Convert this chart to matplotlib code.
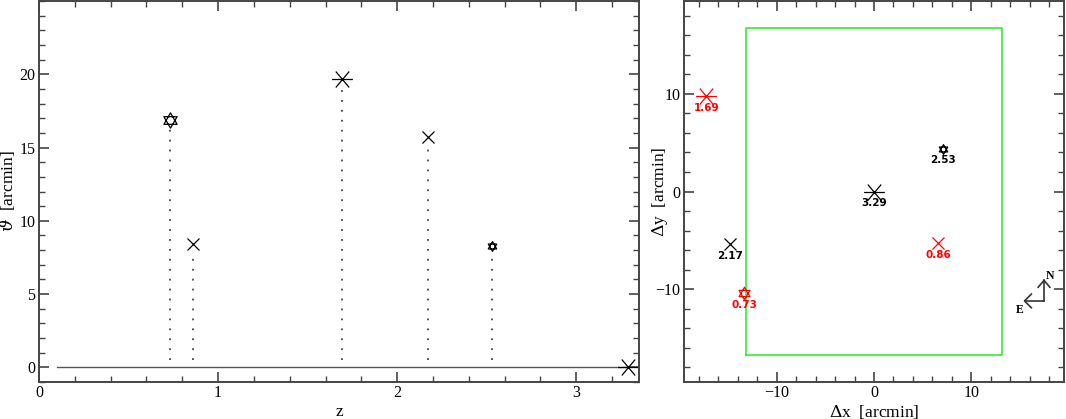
import numpy as np
import matplotlib
matplotlib.use("Agg")
from matplotlib import pyplot as plt
from matplotlib.path import Path
from matplotlib.ticker import MultipleLocator

# ===== DANE =====
redshift = [0.73, 0.86, 1.69, 2.17, 2.53, 3.29]
theta = [16.9, 8.4, 19.7, 15.7, 8.3, 0.0]
dx = [-13.3, 6.6, -17.2, -14.75, 7.1, 0.0]
dy = [-10.4, -5.3, 9.8, -5.35, 4.4, 0.0]
labels = ["0.73", "0.86", "1.69", "2.17", "2.53", "3.29"]
symbols = ["hexbig", "x", "ast", "x", "hexsmall", "ast"]
colors = ["red", "red", "red", "black", "black", "black"]

baseline = [0.1, 3.29]
field_x = [-13.1, 13.1]
field_y = [-16.75, 16.75]

# ===== MARKERY =====
def hexagram():
    a = np.deg2rad([90, 210, 330])
    b = np.deg2rad([270, 30, 150])
    verts = []
    codes = []
    for ang in (a, b):
        pts = list(zip(np.cos(ang), np.sin(ang)))
        verts += pts + [pts[0]]
        codes += [Path.MOVETO, Path.LINETO, Path.LINETO, Path.CLOSEPOLY]
    return Path(verts, codes)

def asterisk():
    verts = []
    codes = []
    for ang in [0, 50, 130]:
        r = np.deg2rad(ang)
        verts += [(-np.cos(r), -np.sin(r)), (np.cos(r), np.sin(r))]
        codes += [Path.MOVETO, Path.LINETO]
    return Path(verts, codes)

markerStyle = {
    "hexbig": dict(marker=hexagram(), ms=11),
    "hexsmall": dict(marker=hexagram(), ms=7),
    "x": dict(marker="x", ms=9),
    "ast": dict(marker=asterisk(), ms=15),
}

plt.rcParams["font.family"] = ["Liberation Serif", "DejaVu Serif"]
plt.rcParams["mathtext.fontset"] = "dejavuserif"

fig = plt.figure(figsize=(10.66, 4.19), dpi=100)
ax1 = fig.add_axes([39 / 1066, 1 - 382 / 419, 600 / 1066, 381 / 419])
ax2 = fig.add_axes([684 / 1066, 1 - 382 / 419, 380 / 1066, 381 / 419])

frameColor = "#444444"

def style_axes(ax):
    for s in ax.spines.values():
        s.set_color(frameColor)
        s.set_linewidth(1.4)
    ax.tick_params(which="both", direction="in", top=True, right=True,
                   color=frameColor, labelsize=11.5, pad=2.5)
    ax.tick_params(which="major", length=7, width=1.2)
    ax.tick_params(which="minor", length=4, width=1.0)

def place_labels(ax, xpos, ypos):
    ax.xaxis.set_label_coords(0.5, ypos)
    ax.yaxis.set_label_coords(xpos, 0.5)
    ax.xaxis.label.set_verticalalignment("center")
    ax.yaxis.label.set_verticalalignment("center")

# ===== LEWY PANEL =====
ax1.plot(baseline, [0, 0], color="#555555", lw=1.0, zorder=1)
for z, t, sym in zip(redshift, theta, symbols):
    if t > 0:
        ax1.plot([z, z], [0.5, t - 0.6], ls=(0, (1, 4.5)), color="#444444", lw=1.3)
    ax1.plot(z, t, color="black", mfc="none", mew=0.9, ls="none", **markerStyle[sym])

ax1.set_xlim(0, 3.35)
ax1.set_ylim(-1, 25)
ax1.xaxis.set_major_locator(MultipleLocator(1))
ax1.xaxis.set_minor_locator(MultipleLocator(0.2))
ax1.yaxis.set_major_locator(MultipleLocator(5))
ax1.yaxis.set_minor_locator(MultipleLocator(1))
ax1.set_yticks([0, 5, 10, 15, 20])
ax1.set_xlabel("z", fontsize=12.5)
ax1.set_ylabel(r"$\vartheta$  [arcmin]", fontsize=12.5)
place_labels(ax1, -0.052, -0.078)
style_axes(ax1)

# ===== PRAWY PANEL =====
ax2.plot([field_x[0], field_x[1], field_x[1], field_x[0], field_x[0]],
         [field_y[0], field_y[0], field_y[1], field_y[1], field_y[0]],
         color="#33ee33", lw=1.2)
for x, y, lab, sym, col in zip(dx, dy, labels, symbols, colors):
    st = dict(markerStyle[sym])
    if sym == "hexbig":
        st["ms"] = 9
    ax2.plot(x, y, color=col, mfc="none", mew=0.9, ls="none", **st)
    ax2.annotate(lab, (x, y), xytext=(0, -8.5), textcoords="offset points",
                 ha="center", va="center", fontsize=7.5, color=col,
                 family="DejaVu Sans", weight="bold")

# kompas
ox, oy = 17.45, -11.2
ax2.plot([ox, ox], [oy, oy + 2.1], color="#333333", lw=1.2)
ax2.plot([ox, ox - 2.0], [oy, oy], color="#333333", lw=1.2)
ax2.plot([ox - 0.6, ox, ox + 0.6], [oy + 1.4, oy + 2.1, oy + 1.4], color="#333333", lw=1.2)
ax2.plot([ox - 1.3, ox - 2.0, ox - 1.3], [oy + 0.7, oy, oy - 0.7], color="#333333", lw=1.2)
ax2.text(ox + 0.6, oy + 2.5, "N", fontsize=8.5, weight="bold", ha="center", va="center")
ax2.text(ox - 2.5, oy - 0.9, "E", fontsize=8.5, weight="bold", ha="center", va="center")

ax2.set_xlim(-19.5, 19.5)
ax2.set_ylim(-19.5, 19.5)
ax2.xaxis.set_major_locator(MultipleLocator(10))
ax2.xaxis.set_minor_locator(MultipleLocator(2))
ax2.yaxis.set_major_locator(MultipleLocator(10))
ax2.yaxis.set_minor_locator(MultipleLocator(2))
ax2.set_xlabel(r"$\Delta$x  [arcmin]", fontsize=12.5)
ax2.set_ylabel(r"$\Delta$y  [arcmin]", fontsize=12.5)
place_labels(ax2, -0.063, -0.078)
style_axes(ax2)

fig.savefig("out.png", dpi=100)
